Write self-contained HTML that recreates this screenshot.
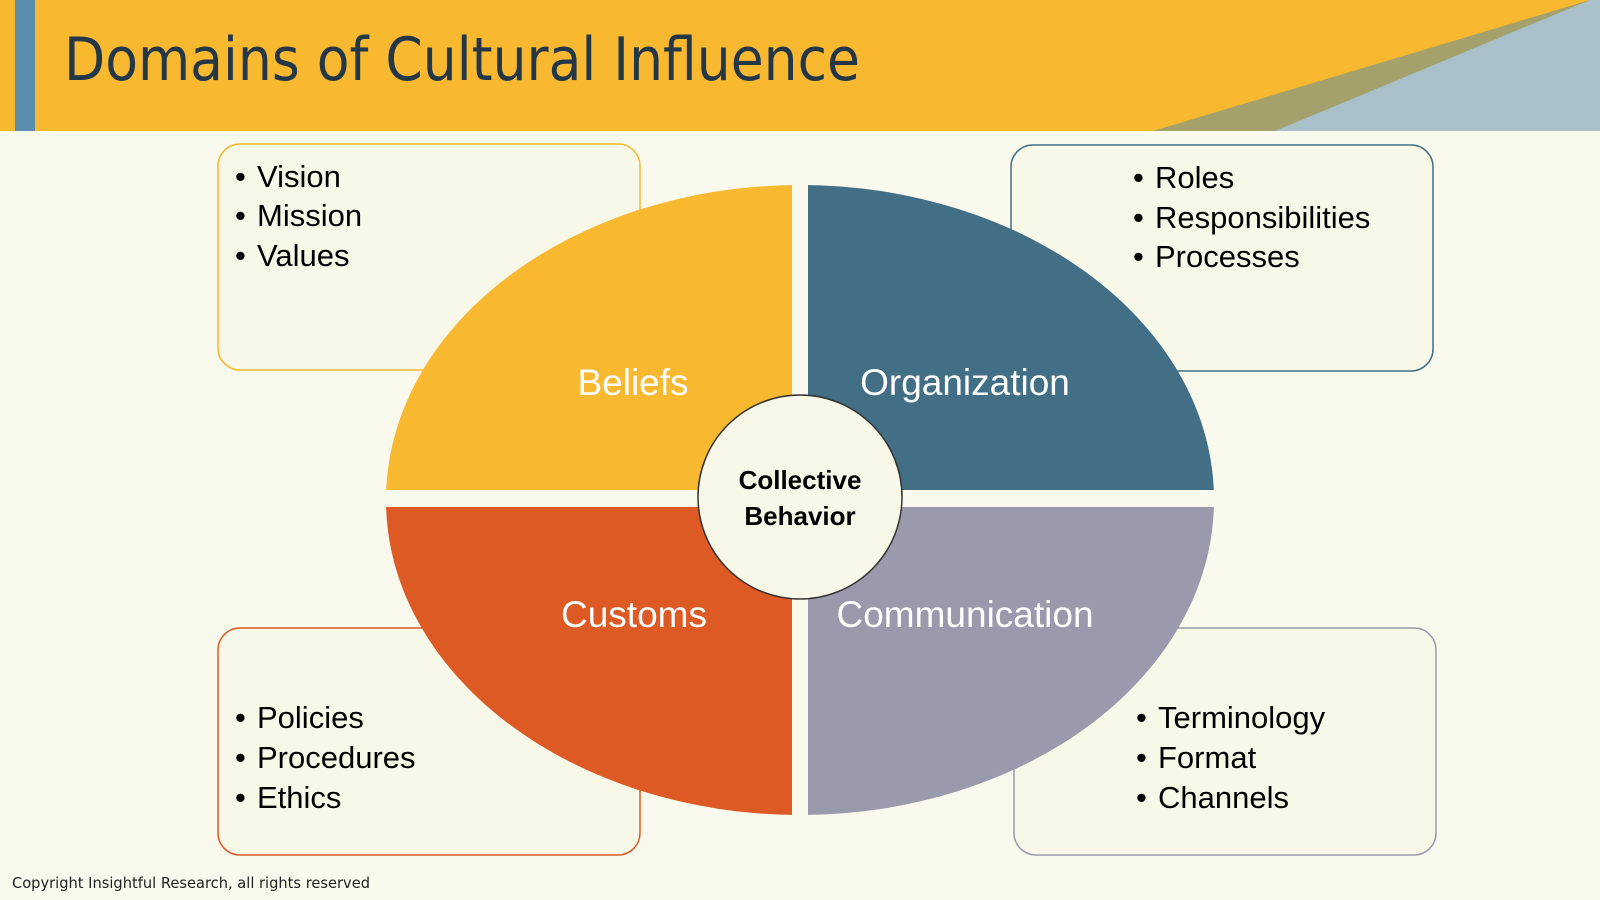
<!DOCTYPE html>
<html><head><meta charset="utf-8"><style>
html,body{margin:0;padding:0;background:#F9F9EE;}
svg{display:block;}
</style></head><body>
<svg width="1600" height="900" viewBox="0 0 1600 900" xmlns="http://www.w3.org/2000/svg" font-family="'Liberation Sans', Arial, sans-serif">
<rect width="1600" height="900" fill="#F9F9EE"/>
<rect x="0" y="0" width="1600" height="131" fill="#F8B830"/>
<polygon points="1153,131 1590,0 1600,0 1600,131" fill="#A4A16C"/>
<polygon points="1275,131 1590,0 1600,0 1600,131" fill="#A9C0CB"/>
<rect x="15" y="0" width="20" height="131" fill="#5B8DAE"/>
<text x="64" y="80" font-size="60" fill="#243746" font-family="'DejaVu Sans', 'Liberation Sans', sans-serif" textLength="796" lengthAdjust="spacingAndGlyphs">Domains of Cultural Influence</text>

<g stroke-width="1.5" fill="#F7F8E8">
<rect x="218" y="144" width="422" height="226" rx="22" stroke="#F8B830"/>
<rect x="1011" y="145" width="422" height="226" rx="22" stroke="#426E86"/>
<rect x="218" y="628" width="422" height="227" rx="22" stroke="#DD5A24"/>
<rect x="1014" y="628" width="422" height="227" rx="22" stroke="#9A9AAC"/>
</g>

<defs><clipPath id="el"><ellipse cx="800" cy="500" rx="414" ry="315"/></clipPath></defs>
<g clip-path="url(#el)">
<rect x="380" y="180" width="412" height="310" fill="#F8B830"/>
<rect x="808" y="180" width="412" height="310" fill="#426E86"/>
<rect x="380" y="507" width="412" height="310" fill="#DD5A24"/>
<rect x="808" y="507" width="412" height="310" fill="#9A9AAC"/>
</g>
<circle cx="800" cy="497" r="102" fill="#F7F8E8" stroke="#333" stroke-width="1.5"/>
<g font-family="'Liberation Sans', sans-serif" font-weight="bold" font-size="26" text-anchor="middle" fill="#000">
<text x="800" y="489">Collective</text>
<text x="800" y="525">Behavior</text>
</g>
<g font-size="37" fill="#fff" text-anchor="middle">
<text x="633" y="395">Beliefs</text>
<text x="965" y="395">Organization</text>
<text x="634" y="627">Customs</text>
<text x="965" y="627">Communication</text>
</g>
<g font-size="31" fill="#000" font-family="'Liberation Sans', Arial, sans-serif">
<text x="235" y="187">•</text><text x="257" y="187">Vision</text>
<text x="235" y="226">•</text><text x="257" y="226">Mission</text>
<text x="235" y="266">•</text><text x="257" y="266">Values</text>
<text x="1133" y="188">•</text><text x="1155" y="188">Roles</text>
<text x="1133" y="228">•</text><text x="1155" y="228">Responsibilities</text>
<text x="1133" y="267">•</text><text x="1155" y="267">Processes</text>
<text x="235" y="728">•</text><text x="257" y="728">Policies</text>
<text x="235" y="768">•</text><text x="257" y="768">Procedures</text>
<text x="235" y="808">•</text><text x="257" y="808">Ethics</text>
<text x="1136" y="728">•</text><text x="1158" y="728">Terminology</text>
<text x="1136" y="768">•</text><text x="1158" y="768">Format</text>
<text x="1136" y="808">•</text><text x="1158" y="808">Channels</text>
</g>
<text x="12" y="888" font-size="15" fill="#222" font-family="'DejaVu Sans', 'Liberation Sans', sans-serif" textLength="358" lengthAdjust="spacingAndGlyphs">Copyright Insightful Research, all rights reserved</text>
</svg>
</body></html>
